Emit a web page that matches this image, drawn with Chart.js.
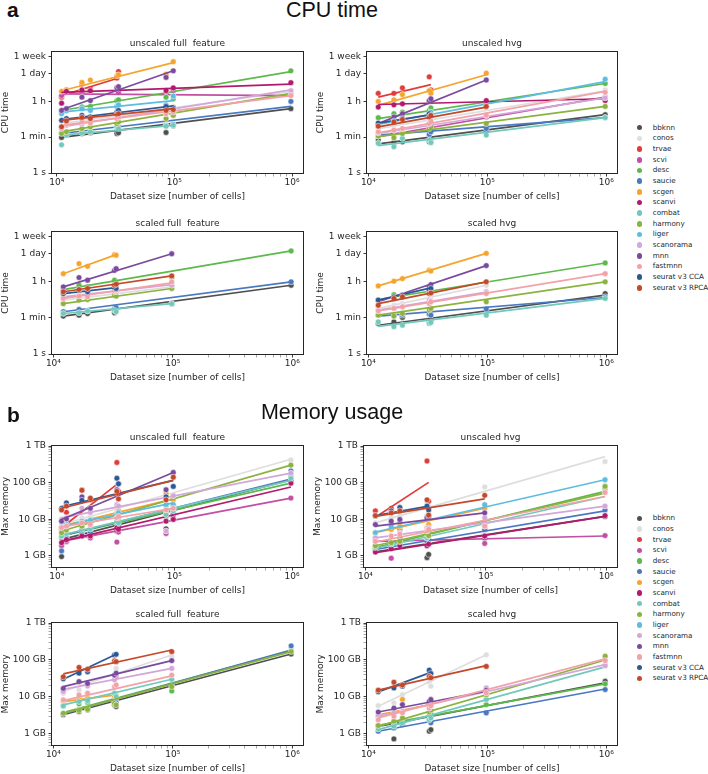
<!DOCTYPE html>
<html>
<head>
<meta charset="utf-8">
<title>Scalability: CPU time and memory usage</title>
<script src="https://cdn.jsdelivr.net/npm/chart.js@4.4.1/dist/chart.umd.min.js"></script>
<style>
html, body { margin:0; padding:0; background:#ffffff; }
#fig { position:relative; width:708px; height:774px; overflow:hidden; background:#ffffff; color:#262626; font-family:'DejaVu Sans', sans-serif; }
#fig canvas { position:absolute; }
.lbl { position:absolute; white-space:pre; }
.panel-letter { font-family:'Liberation Sans', Arial, sans-serif; font-weight:bold; font-size:21px; line-height:21px; color:#111; }
.panel-title { font-family:'Liberation Sans', Arial, sans-serif; font-size:21.5px; line-height:21.5px; color:#111; text-align:center; }
.sub { font-size:9px; line-height:11px; text-align:center; }
.leg { font-size:7.2px; line-height:9px; }
.dot { position:absolute; width:5.6px; height:5.6px; border-radius:50%; }
</style>
</head>
<body>
<div id="fig"></div>
<script>
// ---------------- data ----------------
const methods = ['bbknn','conos','trvae','scvi','desc','saucie','scgen','scanvi','combat','harmony','liger','scanorama','mnn','fastmnn','seurat v3 CCA','seurat v3 RPCA'];
const methodColors = ['#4f4f4f','#dedede','#e23b3b','#c24fa3','#5db94b','#4a78c2','#f5a42c','#b3196c','#72c9bb','#8cb33f','#5dbde0','#d3a7d7','#7a4a9e','#f2a2a8','#2d5897','#c4492a'];
const datasetSizes = [11000, 12097, 16382, 19318, 32472, 33506, 85000, 97952, 978734];
const xAxisTitle = 'Dataset size [number of cells]';
const xMajorValues = [1e4, 1e5, 1e6];
const xMajorLabels = ['10\u2074', '10\u2075', '10\u2076'];
const cpuTickValues = [1, 60, 3600, 86400, 604800];
const cpuTickLabels = ['1 s', '1 min', '1 h', '1 day', '1 week'];
const memTickValues = [1, 10, 100, 1000];
const memTickLabels = ['1 GB', '10 GB', '100 GB', '1 TB'];
const N = null;

// CPU time [s]
const cpuUnscaledFullPoints = [
  [58, 76, 91, 98, 91, 98, 102, 220, 1550],
  [410, 280, 340, 380, 720, 600, 1260, 2000, 11200],
  [5750, 13500, 25700, 14800, 51300, 107000, N, N, N],
  [6900, 10000, 12000, 11200, 14800, 10000, 8300, 12000, 7400],
  [1050, 1260, 1900, 2000, 3900, 4270, 5750, 4800, 117000],
  [98, 110, 120, 110, 195, 180, 230, 260, 3550],
  [11200, 13200, 30900, 40700, 66100, 74100, 79400, 331000, N],
  [2900, 11200, 13200, 12000, 16600, 14800, 12000, 16600, 30200],
  [25, 76, 98, 110, 195, 160, 210, 230, N],
  [91, 110, 160, 195, 280, 340, 500, 720, 8900],
  [870, 1260, 1550, 1260, 2000, 2400, 2400, 6500, N],
  [160, 230, 280, 410, 600, 720, 1260, 1550, 12000],
  [1260, 1550, 5750, 3900, 16600, 19100, 55000, 117000, N],
  [210, 260, 340, 300, 500, 600, 870, 1050, 6900],
  [410, 500, 720, 600, 1050, 1260, 2000, 1700, N],
  [195, 380, 570, 500, 810, 870, 1260, 1380, N]
];
const cpuUnscaledFullFitStart = [58, 280, 6900, 8300, 1260, 91, 12000, 10000, 76, 110, 1050, 195, 1380, 230, 450, 410];
const cpuUnscaledFullFitEnd = [1550, 11200, 51300, 6900, 107000, 2000, 295000, 25700, 230, 8900, 3900, 13200, 117000, 6900, 2140, 1550];

const cpuUnscaledHvgPoints = [
  [N, 43, 32, 35, 35, 35, N, 110, 780],
  [N, 160, 280, 410, 720, 870, N, 1700, 13200],
  [N, 8900, 8900, 16600, 59000, 13200, N, N, N],
  [N, 68, 110, 132, 280, 230, N, 600, 5750],
  [N, 550, 870, 1050, 1260, 1700, N, 3300, 27500],
  [N, 68, 91, 110, 82, 110, N, 160, 560],
  [N, 3550, 4270, 7800, 12000, 8900, N, 89000, N],
  [N, 1850, 2400, 2700, 3550, 4270, N, 3900, 3900],
  [N, 30, 20, 52, 43, 32, N, 76, 560],
  [N, 68, 56, 91, 160, 195, N, 280, 2000],
  [N, 260, 410, 500, 870, 1050, N, 1850, 45000],
  [N, 98, 132, 160, 280, 340, N, 720, 5300],
  [N, 280, 600, 870, 3900, 4800, N, 41000, N],
  [N, 110, 132, 160, 280, 380, N, 720, 10000],
  [N, 300, 380, 500, 870, 720, N, N, N],
  [N, 210, 340, 450, 600, 720, N, 2000, N]
];
const cpuUnscaledHvgFitStart = [28, 160, 5750, 63, 500, 76, 2240, 2500, 23, 63, 260, 91, 280, 98, 300, 195];
const cpuUnscaledHvgFitEnd = [780, 12000, 24000, 5750, 27500, 560, 74100, 4800, 560, 2000, 34000, 5300, 41000, 11200, 780, 1850];

const cpuScaledFullPoints = [
  [N, 73, 81, 98, 107, 132, N, 300, 2400],
  [N, 450, 650, 540, 940, 1150, N, 2000, N],
  null,
  null,
  [N, 1400, 2400, 2000, 4270, 3160, N, 5750, 117000],
  [N, 120, 155, 132, 170, 190, N, 300, 3550],
  [N, 8900, 27700, 20500, 77000, 72000, N, N, N],
  null,
  [N, 98, 107, 132, 140, 120, N, 300, N],
  [N, 300, 450, 480, 780, 700, N, 1660, N],
  null,
  [N, 600, 780, 700, 1400, 1150, N, 2400, N],
  [N, 2000, 5750, 4270, 13000, 15800, N, 85000, N],
  [N, 540, 700, 650, 1280, 1400, N, 3550, N],
  [N, 940, 1400, 1150, 1850, 1660, N, N, N],
  [N, 1150, 1480, 1660, 2400, 2700, N, 6900, N]
];
const cpuScaledFullFitStart = [73, 450, N, N, 1480, 120, 8900, N, 98, 300, N, 650, 2000, 540, 940, 1150];
const cpuScaledFullFitEnd = [2400, 2000, N, N, 117000, 3550, 77000, N, 300, 1660, N, 2600, 85000, 3160, 1850, 6900];

const cpuScaledHvgPoints = [
  [N, 32, 38, 63, 35, 43, N, 145, 940],
  [N, 174, 250, 300, 450, 650, N, 2400, N],
  null,
  null,
  [N, 450, 830, 650, 1380, 1000, N, 3550, 30000],
  [N, 81, 73, 81, 90, 81, N, 162, 650],
  [N, 2240, 3800, 5100, 13200, 12000, N, 89000, N],
  null,
  [N, 38, 22, 26, 32, 35, N, 81, 540],
  [N, 81, 73, 98, 145, 174, N, 370, 3550],
  null,
  [N, 145, 190, 210, 450, 410, N, 1150, N],
  [N, 450, 540, 780, 2000, 2600, N, 22300, N],
  [N, 132, 174, 210, 300, 370, N, 940, 8900],
  [N, 450, 650, 780, 1380, 1660, N, N, N],
  [N, 250, 540, 650, 940, 1000, N, 3550, N]
];
const cpuScaledHvgFitStart = [26, 174, N, N, 480, 73, 2240, N, 23, 81, N, 145, 370, 132, 450, 300];
const cpuScaledHvgFitEnd = [780, 2400, N, N, 30000, 600, 89000, N, 540, 3550, N, 1100, 22300, 8900, 1780, 3550];

// Max memory [GB]
const memUnscaledFullPoints = [
  [0.96, 2.5, 3.5, 3.7, 4.8, 6.5, 5.5, 13.5, 115],
  [6.5, 8.0, 11, 12, 20, 19, 34, 42, 417],
  [5.3, 15.5, 62, 34, 355, 58, N, N, N],
  [1.9, 2.5, 3.5, 3.1, 2.4, 4.5, 4.1, 11, 38],
  [3.1, 3.9, 4.8, 5.3, 8.0, 8.9, 12, 22, 153],
  [1.37, 3.1, 3.9, 4.3, 8.0, 6.5, 13.5, 15, 209],
  [5.9, 6.8, 8.9, 9.9, 15, 17, 50, 34, N],
  [2.3, 2.8, 3.5, 3.5, 5.9, 5.3, 8.9, 9.9, 97],
  [3.5, 4.1, 5.3, 5.5, 8.9, 8.0, 13.5, 17, 132],
  [4.3, 5.1, 6.5, 7.2, 12, 11, 23, 25, 302],
  [6.2, 7.2, 8.9, 9.4, 13.5, 15, 25, 25, N],
  [9.9, 11, 20, 15.5, 25, 23, 4.8, 44, 182],
  [8.9, 10.3, 41, 20, 64, 93, 64, 190, N],
  [5.9, 6.5, 8.0, 7.2, 11, 12, 18, 20, N],
  [20, 28, 33, 36, 132, 93, 41, 79, N],
  [18, 23, 62, 38, 58, 36, 34, 141, N]
];
const memUnscaledFullFitStart = [2.8, 7.2, 5.9, 2.5, 3.5, 3.5, 6.5, 2.5, 3.7, 4.8, 6.5, 11, 9.9, 6.2, 22, 20];
const memUnscaledFullFitEnd = [120, 436, 97, 38, 97, 126, 36, 76, 115, 302, 28, 182, 190, 20, 115, 115];

const memUnscaledHvgPoints = [
  [N, 1.5, 1.9, 2.1, 0.9, 1.1, N, 3.1, 12],
  [N, 8, 11, 12.6, 28, 23, N, 76, 375],
  [N, 17, 20, 17, 390, 31, N, N, N],
  [N, 2.8, 0.87, 3.1, 2.8, 2.3, N, 2.2, 3.6],
  [N, 1.7, 2.3, 5.3, 3.5, 4.3, N, 8, 79],
  [N, 3.1, 1.9, 2.3, 2.5, 2.8, N, 5.3, 18],
  [N, 4.3, 5.3, 6.5, 5.9, 7.2, N, 20, N],
  [N, 1.28, 1.6, 1.9, 1.9, 2.1, N, 3.5, 12.6],
  [N, 1.7, 2.1, 2.5, 3.1, 3.5, N, 6.5, 64],
  [N, 1.9, 2.3, 2.5, 3.9, 3.6, N, 7.2, 79],
  [N, 4.3, 6.5, 8.9, 12, 13.5, N, 25, 120],
  [N, 3.1, 3.5, 4.3, 5.3, 5.9, N, 11, 23],
  [N, 7.2, 8.9, 9.9, 11, 12, N, 15, N],
  [N, 2.5, 3.5, 3.9, 4.8, 5.3, N, 6.5, 54],
  [N, 12.6, 17, 21, 23, 18, N, N, N],
  [N, 12.6, 15, 17, 34, 13, N, 45, N]
];
const memUnscaledHvgFitStart = [1.3, 8, 11.4, 2.5, 1.7, 1.5, 4.3, 1.23, 1.6, 1.9, 4.5, 3.1, 6.5, 2.4, 12.6, 12];
const memUnscaledHvgFitEnd = [12, 513, 102, 3.5, 58, 17, 20, 12, 42, 52, 120, 23, 15, 42, 23, 36];

const memScaledFullPoints = [
  [N, 3.3, 4.0, 4.5, 6.1, 5.5, N, 21, 145],
  [N, 12.5, 15.5, 19, 35, 59, N, 123, N],
  null,
  null,
  [N, 5.7, 6.5, 7.2, 8.3, 9.1, N, 14.5, 178],
  [N, 3.6, 4.5, 4.9, 7.5, 7, N, 20, 240],
  [N, 7.5, 8.6, 9.1, 10.6, 11.3, N, N, N],
  null,
  [N, 5.7, 7.5, 7.9, 12.6, 10.2, N, 30, N],
  [N, 3.6, 4.3, 4.6, 6.7, 6.1, N, 19, 168],
  null,
  [N, 14, 26, 20, 29, 35, N, 59, N],
  [N, 17, 26, 23, 39, 44, N, 96, N],
  [N, 8.3, 11.3, 12.6, 19, 21, N, 39, N],
  [N, 31, 44, 48, 136, 142, N, N, N],
  [N, 35, 63, 56, 94, 90, N, 168, N]
];
const memScaledFullFitStart = [3.3, 14, N, N, 3.8, 3.5, 7.5, N, 6.1, 3.6, N, 16, 19, 7.9, 30, 42];
const memScaledFullFitEnd = [145, 136, N, N, 178, 186, 11.3, N, 30, 168, N, 59, 96, 37, 142, 186];

const memScaledHvgPoints = [
  [N, 1.7, 0.73, 2.0, 1.18, 1.3, N, 3.7, 26.5],
  [N, 5.8, 6.9, 11.5, 25, 19.5, N, 138, N],
  null,
  null,
  [N, 1.6, 2.0, 2.4, 3.7, 3.9, N, 6.2, 22.5],
  [N, 1.18, 1.45, 1.8, 2.4, 2.0, N, 3.7, 15.8],
  [N, 3.0, 4.5, 8.5, 6.2, 6.9, N, N, N],
  null,
  [N, 1.36, 1.6, 2.0, 2.4, 2.7, N, 8.5, 75],
  [N, 1.68, 2.2, 2.7, 3.9, 4.4, N, 11.5, 126],
  null,
  [N, 3.0, 3.7, 4.1, 5.0, 5.6, N, 17.5, 70],
  [N, 3.9, 5.0, 6.2, 7.6, 8.5, N, 15.2, N],
  [N, 2.4, 3.0, 3.7, 5.0, 5.8, N, 12.8, 96],
  [N, 13.7, 17.5, 19.5, 53, 43, N, N, N],
  [N, 15.2, 25, 21, 36, 33, N, 67, N]
];
const memScaledHvgFitStart = [1.6, 5.6, N, N, 1.7, 1.18, 3.3, N, 1.3, 1.6, N, 3.0, 3.9, 2.7, 13.7, 15.2];
const memScaledHvgFitEnd = [24, 138, N, N, 22.5, 16.4, 6.2, N, 65, 100, N, 75, 14.2, 107, 46, 70];

// ---------------- layout ----------------
const YW = 52, PADT = 10, PADR = 5, XH = 29;
const fig = document.getElementById('fig');

Chart.defaults.font.family = "'DejaVu Sans', sans-serif";
Chart.defaults.font.size = 9;
Chart.defaults.color = '#262626';

function addText(cls, text, left, top, width) {
  const d = document.createElement('div');
  d.className = 'lbl ' + cls;
  d.textContent = text;
  d.style.left = left + 'px';
  d.style.top = top + 'px';
  if (width) d.style.width = width + 'px';
  fig.appendChild(d);
  return d;
}

function logTicks(min, max) {
  const t = [];
  for (let e = -1; e <= 6; e++) {
    for (let k = 1; k <= 9; k++) {
      const v = k * Math.pow(10, e);
      if (v >= min * 0.9999 && v <= max * 1.0001) t.push({ value: v, major: k === 1 });
    }
  }
  return t;
}

function buildDatasets(points, fitStart, fitEnd) {
  const out = [];
  methods.forEach((name, i) => {
    const row = points[i];
    if (!row) return;
    const idx = [];
    row.forEach((v, j) => { if (v !== null) idx.push(j); });
    const color = methodColors[i];
    out.push({
      label: name,
      data: idx.map(j => ({ x: datasetSizes[j], y: row[j] })),
      backgroundColor: color,
      borderColor: 'rgba(255,255,255,0.9)',
      borderWidth: 0.6,
      pointRadius: 2.9,
      showLine: false,
      order: 1000 - 2 * i
    });
    out.push({
      label: name + ' fit',
      data: [
        { x: datasetSizes[idx[0]], y: fitStart[i] },
        { x: datasetSizes[idx[idx.length - 1]], y: fitEnd[i] }
      ],
      borderColor: color,
      backgroundColor: color,
      borderWidth: 1.7,
      pointRadius: 0,
      showLine: true,
      fill: false,
      order: 999 - 2 * i
    });
  });
  return out;
}

const framePlugin = {
  id: 'axesFrame',
  afterDatasetsDraw(chart) {
    const a = chart.chartArea, ctx = chart.ctx;
    ctx.save();
    ctx.strokeStyle = '#262626';
    ctx.lineWidth = 1;
    ctx.strokeRect(a.left - 0.5, a.top - 0.5, a.right - a.left + 1, a.bottom - a.top + 1);
    ctx.restore();
  }
};

const gridOpts = {
  display: true,
  drawOnChartArea: false,
  drawTicks: true,
  tickLength: 3.5,
  tickColor: c => (c.tick && c.tick.major) ? '#262626' : '#6a6a6a',
  tickWidth: c => (c.tick && c.tick.major) ? 0.9 : 0.6
};

function makePanel(p) {
  const isCpu = p.kind === 'cpu';
  const canvas = document.createElement('canvas');
  const w = YW + (p.R - p.L) + PADR;
  const h = PADT + (p.B - p.T) + XH;
  canvas.width = w; canvas.height = h;
  canvas.style.width = w + 'px'; canvas.style.height = h + 'px';
  canvas.style.left = (p.L - YW) + 'px';
  canvas.style.top = (p.T - PADT) + 'px';
  fig.appendChild(canvas);

  const yMin = isCpu ? 1 : 0.5, yMax = isCpu ? 1e6 : 1000;
  new Chart(canvas.getContext('2d'), {
    type: 'scatter',
    data: { datasets: buildDatasets(p.points, p.fitStart, p.fitEnd) },
    options: {
      responsive: false,
      animation: false,
      devicePixelRatio: 1,
      events: [],
      layout: { padding: { top: PADT, right: PADR, left: 0, bottom: 0 } },
      plugins: { legend: { display: false }, tooltip: { enabled: false }, title: { display: false } },
      scales: {
        x: {
          type: 'logarithmic', position: 'bottom',
          min: p.xMin, max: p.xMax,
          afterBuildTicks: s => { s.ticks = logTicks(p.xMin, p.xMax); },
          afterFit: s => { s.height = XH; },
          ticks: {
            autoSkip: false, maxRotation: 0, minRotation: 0, padding: 1,
            callback: v => { const k = xMajorValues.indexOf(v); return k >= 0 ? xMajorLabels[k] : ''; }
          },
          grid: gridOpts,
          border: { display: false },
          title: { display: true, text: xAxisTitle, padding: 0, font: { size: 9 } }
        },
        y: {
          type: 'logarithmic', position: 'left',
          min: yMin, max: yMax,
          afterBuildTicks: s => {
            s.ticks = isCpu ? cpuTickValues.map(v => ({ value: v, major: true })) : logTicks(yMin, yMax);
          },
          afterFit: s => { s.width = YW; },
          ticks: {
            autoSkip: false, padding: 2.5,
            callback: v => {
              if (isCpu) { const k = cpuTickValues.indexOf(v); return k >= 0 ? cpuTickLabels[k] : ''; }
              const k = memTickValues.indexOf(v); return k >= 0 ? memTickLabels[k] : '';
            }
          },
          grid: gridOpts,
          border: { display: false },
          title: { display: true, text: isCpu ? 'CPU time' : 'Max memory', padding: 0, font: { size: 9 } }
        }
      }
    },
    plugins: [framePlugin]
  });

  addText('sub', p.title, p.L, p.T - 14, p.R - p.L);
}

const xWide = [9120, 1.24e6], xNarrow = [9730, 1.23e6];
const panels = [
  { kind: 'cpu', title: 'unscaled full  feature', points: cpuUnscaledFullPoints, fitStart: cpuUnscaledFullFitStart, fitEnd: cpuUnscaledFullFitEnd, L: 52, R: 303, T: 52, B: 173, xMin: xWide[0], xMax: xWide[1] },
  { kind: 'cpu', title: 'unscaled hvg', points: cpuUnscaledHvgPoints, fitStart: cpuUnscaledHvgFitStart, fitEnd: cpuUnscaledHvgFitEnd, L: 367, R: 617, T: 52, B: 173, xMin: xNarrow[0], xMax: xNarrow[1] },
  { kind: 'cpu', title: 'scaled full  feature', points: cpuScaledFullPoints, fitStart: cpuScaledFullFitStart, fitEnd: cpuScaledFullFitEnd, L: 52, R: 303, T: 232, B: 354, xMin: xNarrow[0], xMax: xNarrow[1] },
  { kind: 'cpu', title: 'scaled hvg', points: cpuScaledHvgPoints, fitStart: cpuScaledHvgFitStart, fitEnd: cpuScaledHvgFitEnd, L: 367, R: 617, T: 232, B: 354, xMin: xNarrow[0], xMax: xNarrow[1] },
  { kind: 'mem', title: 'unscaled full  feature', points: memUnscaledFullPoints, fitStart: memUnscaledFullFitStart, fitEnd: memUnscaledFullFitEnd, L: 52, R: 303, T: 446, B: 567, xMin: xWide[0], xMax: xWide[1] },
  { kind: 'mem', title: 'unscaled hvg', points: memUnscaledHvgPoints, fitStart: memUnscaledHvgFitStart, fitEnd: memUnscaledHvgFitEnd, L: 364, R: 617, T: 446, B: 567, xMin: xNarrow[0], xMax: xNarrow[1] },
  { kind: 'mem', title: 'scaled full  feature', points: memScaledFullPoints, fitStart: memScaledFullFitStart, fitEnd: memScaledFullFitEnd, L: 52, R: 303, T: 623, B: 745, xMin: xNarrow[0], xMax: xNarrow[1] },
  { kind: 'mem', title: 'scaled hvg', points: memScaledHvgPoints, fitStart: memScaledHvgFitStart, fitEnd: memScaledHvgFitEnd, L: 367, R: 617, T: 623, B: 745, xMin: xNarrow[0], xMax: xNarrow[1] }
];
panels.forEach(makePanel);

// titles
addText('panel-letter', 'a', 7, -1);
addText('panel-title', 'CPU time', 182, 0, 300);
addText('panel-letter', 'b', 7, 404);
addText('panel-title', 'Memory usage', 182, 402, 300);

// legends
function addLegend(firstRowY) {
  methods.forEach((m, i) => {
    const y = firstRowY + i * 10.67;
    const d = document.createElement('div');
    d.className = 'dot';
    d.style.left = (639.3 - 2.8) + 'px';
    d.style.top = (y - 2.8) + 'px';
    d.style.background = methodColors[i];
    fig.appendChild(d);
    addText('leg', m, 652.7, y - 5);
  });
}
addLegend(127.7);
addLegend(518.3);
</script>
</body>
</html>
